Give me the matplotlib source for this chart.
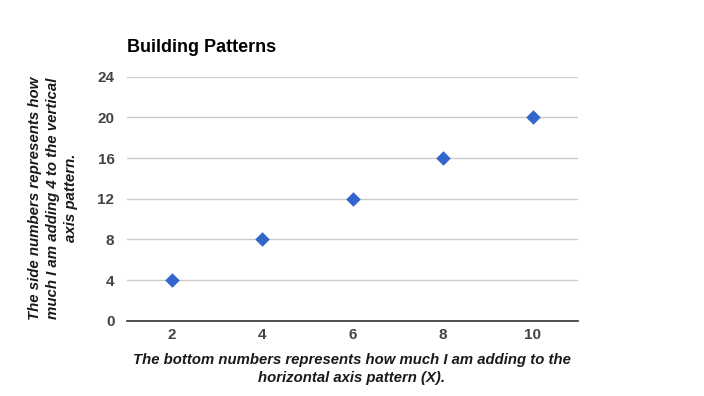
import matplotlib
matplotlib.use("Agg")
import matplotlib.pyplot as plt

plt.rcParams['font.family'] = ['Liberation Sans', 'DejaVu Sans']

x_vals = [2, 4, 6, 8, 10]
y_vals = [4, 8, 12, 16, 20]
y_ticks = [0, 4, 8, 12, 16, 20, 24]

TITLE = "Building Patterns"
X_LABEL = "The bottom numbers represents how much I am adding to the\nhorizontal axis pattern (X)."
Y_LABEL = "The side numbers represents how\nmuch I am adding 4 to the vertical\naxis pattern."

DPI = 100
fig = plt.figure(figsize=(7.04, 3.96), dpi=DPI)
ax = fig.add_axes([127/704, 1 - 320.7/396, (578 - 127)/704, (320.7 - 76.7)/396])

ax.scatter(x_vals, y_vals, marker='D', s=55, color='#3366cc', zorder=3, linewidths=0)

ax.set_xlim(1, 11)
ax.set_ylim(0, 24)
ax.set_xticks(x_vals)
ax.set_yticks(y_ticks)
ax.grid(axis='y', color='#cccccc', linewidth=1)
ax.set_axisbelow(True)
for s in ['top', 'right', 'left']:
    ax.spines[s].set_visible(False)
ax.spines['bottom'].set_color('#333333')
ax.spines['bottom'].set_linewidth(1.2)
ax.spines['bottom'].set_zorder(2)
ax.tick_params(length=0, labelsize=11, labelcolor='#444444')
ax.tick_params(axis='y', pad=9)
ax.tick_params(axis='x', pad=5)
for lab in ax.get_xticklabels() + ax.get_yticklabels():
    lab.set_fontweight('bold')

fig.text(127/704, 1 - 47/396, TITLE, fontsize=13, fontweight='bold', color='black',
         ha='left', va='center')
fig.text(352/704, 1 - 369/396, X_LABEL, fontsize=10.7, fontweight='bold', fontstyle='italic',
         color='#1a1a1a', ha='center', va='center', linespacing=1.35)
fig.text(53/704, 1 - 198/396, Y_LABEL, fontsize=10.8, fontweight='bold', fontstyle='italic',
         color='#1a1a1a', ha='center', va='center', rotation=90, linespacing=1.35)

fig.savefig("out.png", dpi=DPI)
